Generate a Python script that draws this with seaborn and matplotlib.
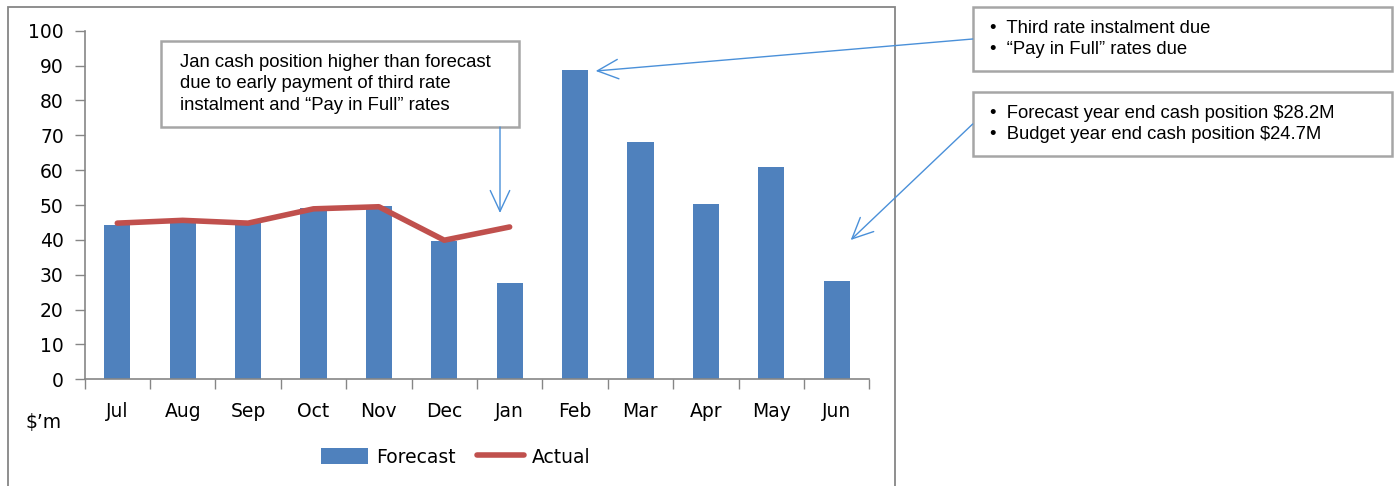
import numpy as np
import pandas as pd
import matplotlib
matplotlib.use("Agg")
import matplotlib.pyplot as plt
from matplotlib.patches import Patch, Rectangle, FancyArrowPatch
from matplotlib.lines import Line2D
import seaborn as sns

months = ["Jul", "Aug", "Sep", "Oct", "Nov", "Dec", "Jan", "Feb", "Mar", "Apr", "May", "Jun"]
forecast = [44.4, 45.5, 45.0, 49.0, 49.7, 39.7, 27.6, 88.7, 68.0, 50.3, 60.9, 28.2]
actual_months = ["Jul", "Aug", "Sep", "Oct", "Nov", "Dec", "Jan"]
actual = [44.8, 45.6, 44.8, 48.9, 49.5, 39.9, 43.7]
yticks = [0, 10, 20, 30, 40, 50, 60, 70, 80, 90, 100]

note_jan = "Jan cash position higher than forecast\ndue to early payment of third rate\ninstalment and \u201cPay in Full\u201d rates"
note_feb = "\u2022  Third rate instalment due\n\u2022  \u201cPay in Full\u201d rates due"
note_jun = "\u2022  Forecast year end cash position $28.2M\n\u2022  Budget year end cash position $24.7M"

BAR = "#4F81BD"
LINE = "#C0504D"
ARROW = "#4A90D9"
GREY = "#868686"

sns.set_style("white")
plt.rcParams["font.family"] = ["DejaVu Sans"]
plt.rcParams["text.color"] = "black"
plt.rcParams["xtick.color"] = "black"
plt.rcParams["ytick.color"] = "black"

W, H = 1396, 486
fig = plt.figure(figsize=(W / 100, H / 100), dpi=100)

def fx(px):
    return px / W

def fy(py):
    return 1 - py / H

ax = fig.add_axes([fx(84.6), fy(379.3), fx(869.3) - fx(84.6), fy(30.7) - fy(379.3)])

df = pd.DataFrame({"month": months, "forecast": forecast})
sns.barplot(data=df, x="month", y="forecast", order=months, color=BAR, width=0.4,
            saturation=1, ax=ax, edgecolor="none")
dfa = pd.DataFrame({"month": actual_months, "actual": actual})
sns.pointplot(data=dfa, x="month", y="actual", order=months, color=LINE, markers="",
              linewidth=4, ax=ax, errorbar=None)
for l in ax.lines:
    l.set_solid_capstyle("round")
    l.set_solid_joinstyle("round")

ax.set_xlim(-0.5, len(months) - 0.5)
ax.set_ylim(0, 100)
ax.set_yticks(yticks)
ax.set_yticklabels([str(t) for t in yticks], fontsize=13.5, color="black")
ax.set_xlabel("")
ax.set_ylabel("")
ax.set_xticks(range(len(months)))
ax.set_xticklabels(months, fontsize=13.5, color="black")
ax.tick_params(axis="x", length=0, pad=16)
ax.tick_params(axis="y", length=7, width=1, color=GREY, direction="out", left=True, pad=8)
# category-boundary ticks on x
ax.set_xticks(np.arange(-0.5, len(months), 1.0), minor=True)
ax.tick_params(axis="x", which="minor", length=7, width=1, color=GREY, direction="out", bottom=True)
for s in ["top", "right"]:
    ax.spines[s].set_visible(False)
for s in ["left", "bottom"]:
    ax.spines[s].set_color(GREY)
    ax.spines[s].set_linewidth(1.2)

fig.text(fx(44), fy(422), "$\u2019m", fontsize=13.5, ha="center", va="center", color="black")

handles = [Patch(facecolor=BAR, edgecolor="none", label="Forecast"),
           Line2D([0], [0], color=LINE, lw=4, solid_capstyle="round", label="Actual")]
fig.legend(handles=handles, loc="center", bbox_to_anchor=(fx(456), fy(457)), ncol=2,
           frameon=False, fontsize=13.5, handlelength=2.5, handleheight=0.9,
           columnspacing=1.1, handletextpad=0.45, labelcolor="black")

# outer chart border
fig.patches.append(Rectangle((fx(8), fy(495)), fx(895) - fx(8), fy(7) - fy(495),
                             transform=fig.transFigure, fill=False, edgecolor=GREY, lw=1.3))

def box(x0, y0, x1, y1):
    fig.patches.append(Rectangle((fx(x0), fy(y1)), fx(x1) - fx(x0), fy(y0) - fy(y1),
                                 transform=fig.transFigure, facecolor="white",
                                 edgecolor="#A6A6A6", lw=1.8, zorder=5))

box(161, 41, 519, 127)
fig.text(fx(180), fy(84), note_jan, fontsize=13.3, family=["Liberation Sans"],
         ha="left", va="center", linespacing=1.32, zorder=6, color="black")
box(972.7, 7, 1391.7, 71)
fig.text(fx(990), fy(39), note_feb, fontsize=13.3, family=["Liberation Sans"],
         ha="left", va="center", linespacing=1.25, zorder=6, color="black")
box(972.7, 92, 1391.7, 156)
fig.text(fx(990), fy(124), note_jun, fontsize=13.3, family=["Liberation Sans"],
         ha="left", va="center", linespacing=1.25, zorder=6, color="black")

def arrow(x0, y0, x1, y1):
    a = FancyArrowPatch((fx(x0), fy(y0)), (fx(x1), fy(y1)), transform=fig.transFigure,
                        arrowstyle="->,head_length=15,head_width=7", color=ARROW, lw=1.0,
                        mutation_scale=1, shrinkA=0, shrinkB=0, zorder=7)
    fig.patches.append(a)

arrow(500, 127, 500, 213)
arrow(972.7, 39, 595.7, 71)
arrow(972.7, 124, 850.7, 240)

fig.savefig("out.png", dpi=100)
